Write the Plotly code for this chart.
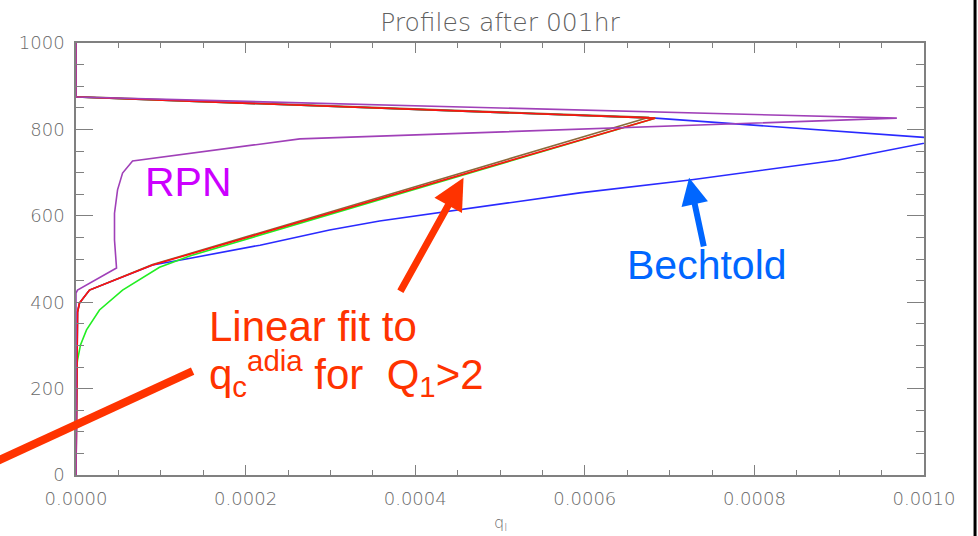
import plotly.graph_objects as go

# ---- data (q_l, height) ----
red_q = [0, 0, 0.000683, 0.0000903, 0.0000159, 0.0000041, 0.0000018, 0]
red_z = [1000, 875, 826, 486, 428, 398, 377, 0]

brown_q = [0, 0, 0.000676, 0.0000903, 0.0000159, 0.0000041, 0.0000018, 0]
brown_z = [1000, 876, 828, 487, 428, 398, 377, 0]

green_q = [0, 0, 0.000683, 0.000134, 0.0000985, 0.0000549, 0.0000277,
           0.0000124, 0.0000053, 0.0000018, 0, 0]
green_z = [1000, 875, 826, 507, 481, 428, 382, 336, 301, 266, 238, 0]

blue_q = [0, 0, 0.000683, 0.001026, 0.000899, 0.000724, 0.000594, 0.000358,
          0.000299, 0.000217, 0.000130, 0.0000903, 0.0000159, 0.0000041,
          0.0000018, 0]
blue_z = [1000, 875, 826, 778, 729, 683, 653, 588, 567, 532, 500, 486, 428,
          398, 377, 0]

rpn_q = [0, 0, 0.000968, 0.000264, 0.0000667, 0.0000549, 0.000049,
         0.0000454, 0.0000454, 0.0000478, 0.0000018, 0, 0]
rpn_z = [1000, 875, 826, 778, 727, 699, 660, 606, 544, 479, 428, 421, 0]

x_ticks = [0, 0.0002, 0.0004, 0.0006, 0.0008, 0.0010]
x_labels = ["0.0000", "0.0002", "0.0004", "0.0006", "0.0008", "0.0010"]
y_ticks = [0, 200, 400, 600, 800, 1000]
y_labels = ["0", "200", "400", "600", "800", "1000"]

fig = go.Figure()
series = [
    (blue_q, blue_z, "#2a2aff", "Bechtold"),
    (green_q, green_z, "#22ee22", "green"),
    (brown_q, brown_z, "#8a6a3a", "brown"),
    (red_q, red_z, "#ff1010", "red"),
    (rpn_q, rpn_z, "#a040b8", "RPN"),
]
for q, z, c, n in series:
    fig.add_trace(go.Scatter(x=q, y=z, mode="lines", name=n,
                             line=dict(color=c, width=1.6),
                             showlegend=False, hoverinfo="skip"))

axis_font = dict(family="DejaVu Sans", size=18, color="#686868", weight=200)
axcol = "#808080"
fig.update_xaxes(range=[0, 0.001], tickvals=x_ticks, ticktext=x_labels,
                 ticks="inside", ticklen=10, tickcolor=axcol, tickwidth=1,
                 showline=True, linecolor=axcol, linewidth=1.5, mirror="ticks",
                 showgrid=False, zeroline=False, tickfont=axis_font,
                 ticklabelstandoff=7, automargin=False,
                 minor=dict(ticks="inside", ticklen=5, dtick=0.00005,
                            tickcolor=axcol, showgrid=False))
fig.update_yaxes(range=[0, 1000], tickvals=y_ticks, ticktext=y_labels,
                 ticks="inside", ticklen=17, tickcolor=axcol, tickwidth=1,
                 showline=True, linecolor=axcol, linewidth=1.5, mirror="ticks",
                 showgrid=False, zeroline=False, tickfont=axis_font,
                 ticklabelstandoff=6, automargin=False,
                 minor=dict(ticks="inside", ticklen=8, dtick=50,
                            tickcolor=axcol, showgrid=False))

# x-axis title
fig.add_annotation(x=0.5, y=-0.112, xref="paper", yref="paper",
                   text="q<sub>l</sub>", showarrow=False, yanchor="middle",
                   font=dict(family="DejaVu Sans", size=16, color="#686868", weight=200))

ann_font = "Liberation Sans, Arial, sans-serif"
fig.add_annotation(x=0.000133, y=678, xref="x", yref="y", text="RPN",
                   showarrow=False, font=dict(family=ann_font, size=41, color="#cc00ff"))
fig.add_annotation(x=0.000744, y=487, xref="x", yref="y", text="Bechtold",
                   showarrow=False, font=dict(family=ann_font, size=41, color="#0066ff"))
fig.add_annotation(x=0.000155, y=343, xref="x", yref="y", text="Linear fit to",
                   xanchor="left", showarrow=False,
                   font=dict(family=ann_font, size=42, color="#ff3300"))
fig.add_annotation(x=0.000155, y=236, xref="x", yref="y",
                   text="q<sub>c</sub><sup>adia</sup> for&nbsp; Q<sub>1</sub>&gt;2",
                   xanchor="left", showarrow=False,
                   font=dict(family=ann_font, size=42, color="#ff3300"))
# arrows
fig.add_annotation(x=0.000457, y=688, xref="x", yref="y", text="",
                   showarrow=True, ax=-64, ay=115, arrowhead=2, arrowsize=0.9,
                   arrowwidth=7, arrowcolor="#ff3300")
fig.add_annotation(x=0.000723, y=688, xref="x", yref="y", text="",
                   showarrow=True, ax=15, ay=70, arrowhead=2, arrowsize=0.9,
                   arrowwidth=6, arrowcolor="#0066ff")

fig.add_shape(type="line", xref="paper", yref="paper",
              x0=-0.1021, y0=0.024, x1=0.1375, y1=0.2407,
              line=dict(color="#ff3300", width=8))
fig.add_shape(type="line", xref="paper", yref="paper",
              x0=1.0602, y0=-0.15, x1=1.0602, y1=1.11,
              line=dict(color="#000000", width=3))

fig.update_layout(
    width=978, height=536,
    margin=dict(l=76, r=54, t=43, b=61, autoexpand=False),
    paper_bgcolor="white", plot_bgcolor="white",
    title=dict(text="Profiles after 001hr", x=0.5, xref="paper",
               y=1 - 22 / 536, yanchor="middle", xanchor="center",
               font=dict(family="DejaVu Sans", size=25, color="#606060", weight=200)),
)

fig.write_html("out.html")
